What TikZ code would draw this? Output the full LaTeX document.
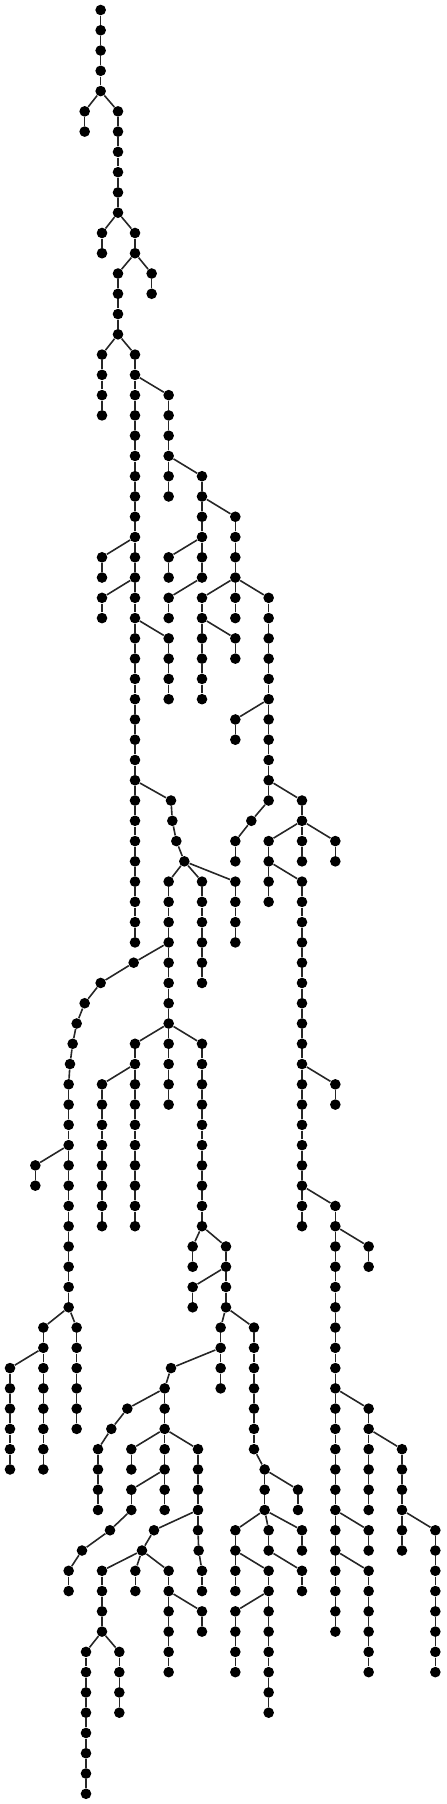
\documentclass[tikz,border=0pt]{standalone}
\begin{document}
\begin{tikzpicture}[x=0.5pt, y=-0.5pt,
  treedot/.style={circle, fill=black, inner sep=0pt, minimum size=5.3pt},
  treeedge/.style={black!85, line width=0.8pt}]
  % Canvas
  \useasboundingbox (0,0) rectangle (446,1804);

  % Root
  \node[treedot] (n0x302) at ({302/3},10) {};

  % Nodes as level / x / parent x (x in thirds of a pixel)
  \foreach \lvl/\xpos/\ppos in {
    1/302/302, 2/302/302, 3/302/302, 4/302/302,
    5/254/302, 5/354/302, 6/254/254, 6/354/354,
    7/354/354, 8/354/354, 9/354/354, 10/354/354,
    11/306/354, 11/405/354, 12/306/306, 12/405/405,
    13/354/405, 13/455/405, 14/354/354, 14/455/455,
    15/354/354, 16/354/354,
    17/306/354, 17/405/354, 18/306/306, 18/405/405,
    19/306/306, 19/405/405, 19/506/405, 20/306/306, 20/405/405, 20/506/506,
    21/405/405, 21/506/506, 22/405/405, 22/506/506,
    23/405/405, 23/506/506, 23/606/506, 24/405/405, 24/506/506, 24/606/606,
    25/405/405, 25/606/606, 25/706/606, 26/405/405, 26/606/606, 26/706/706,
    27/306/405, 27/405/405, 27/506/606, 27/606/606, 27/706/706,
    28/306/306, 28/405/405, 28/506/506, 28/606/606, 28/706/706,
    29/306/405, 29/405/405, 29/506/606, 29/606/706, 29/706/706, 29/806/706,
    30/306/306, 30/405/405, 30/506/506, 30/606/606, 30/706/706, 30/806/806,
    31/405/405, 31/506/405, 31/606/606, 31/706/606, 31/806/806,
    32/405/405, 32/506/506, 32/606/606, 32/706/706, 32/806/806,
    33/405/405, 33/506/506, 33/606/606, 33/806/806,
    34/405/405, 34/506/506, 34/606/606, 34/806/806,
    35/405/405, 35/706/806, 35/806/806, 36/405/405, 36/706/706, 36/806/806,
    37/405/405, 37/806/806, 38/405/405, 38/806/806,
    39/405/405, 39/513/405, 39/806/806, 39/906/806,
    40/405/405, 40/517/513, 40/754/806, 40/906/906,
    41/405/405, 41/529/517, 41/706/754, 41/806/906, 41/906/906, 41/1006/906,
    42/405/405, 42/553/529, 42/706/706, 42/806/806, 42/906/906, 42/1006/1006,
    43/405/405, 43/506/553, 43/606/553, 43/706/553, 43/806/806, 43/906/806,
    44/405/405, 44/506/506, 44/606/606, 44/706/706, 44/806/806, 44/906/906,
    45/405/405, 45/506/506, 45/606/606, 45/706/706, 45/906/906,
    46/405/405, 46/506/506, 46/606/606, 46/706/706, 46/906/906,
    47/401/506, 47/506/506, 47/606/606, 47/906/906,
    48/302/401, 48/506/506, 48/606/606, 48/906/906,
    49/254/302, 49/506/506, 49/906/906,
    50/230/254, 50/506/506, 50/906/906,
    51/218/230, 51/405/506, 51/506/506, 51/606/506, 51/906/906,
    52/210/218, 52/405/405, 52/506/506, 52/606/606, 52/906/906,
    53/206/210, 53/306/405, 53/405/405, 53/506/506, 53/606/606, 53/906/906, 53/1006/906,
    54/206/206, 54/306/306, 54/405/405, 54/506/506, 54/606/606, 54/906/906, 54/1006/1006,
    55/206/206, 55/306/306, 55/405/405, 55/606/606, 55/906/906,
    56/206/206, 56/306/306, 56/405/405, 56/606/606, 56/906/906,
    57/106/206, 57/206/206, 57/306/306, 57/405/405, 57/606/606, 57/906/906,
    58/106/106, 58/206/206, 58/306/306, 58/405/405, 58/606/606, 58/906/906,
    59/206/206, 59/306/306, 59/405/405, 59/606/606, 59/906/906, 59/1006/906,
    60/206/206, 60/306/306, 60/405/405, 60/606/606, 60/906/906, 60/1006/1006,
    61/206/206, 61/578/606, 61/678/606, 61/1006/1006, 61/1106/1006,
    62/206/206, 62/578/578, 62/678/678, 62/1006/1006, 62/1106/1106,
    63/206/206, 63/578/678, 63/678/678, 63/1006/1006,
    64/206/206, 64/578/578, 64/678/678, 64/1006/1006,
    65/130/206, 65/230/206, 65/662/678, 65/762/678, 65/1006/1006,
    66/130/130, 66/230/230, 66/662/662, 66/762/762, 66/1006/1006,
    67/30/130, 67/130/130, 67/230/230, 67/513/662, 67/662/662, 67/762/762, 67/1006/1006,
    68/30/30, 68/130/130, 68/230/230, 68/494/513, 68/662/662, 68/762/762, 68/1006/1006,
    69/30/30, 69/130/130, 69/230/230, 69/382/494, 69/494/494, 69/762/762, 69/1006/1006, 69/1106/1006,
    70/30/30, 70/130/130, 70/230/230, 70/334/382, 70/494/494, 70/762/762, 70/1006/1006, 70/1106/1106,
    71/30/30, 71/130/130, 71/294/334, 71/394/494, 71/494/494, 71/594/494, 71/762/762,
    71/1006/1006, 71/1106/1106, 71/1206/1106,
    72/30/30, 72/130/130, 72/294/294, 72/394/394, 72/494/494, 72/594/594, 72/794/762,
    72/1006/1006, 72/1106/1106, 72/1206/1206,
    73/294/294, 73/394/494, 73/494/494, 73/594/594, 73/794/794, 73/894/794,
    73/1006/1006, 73/1106/1106, 73/1206/1206,
    74/294/294, 74/394/394, 74/494/494, 74/594/594, 74/794/794, 74/894/894,
    74/1006/1006, 74/1106/1106, 74/1206/1206,
    75/330/394, 75/462/594, 75/594/594, 75/706/794, 75/806/794, 75/906/794,
    75/1006/1006, 75/1106/1006, 75/1206/1206, 75/1306/1206,
    76/246/330, 76/426/462, 76/596/594, 76/706/706, 76/806/806, 76/906/906,
    76/1006/1006, 76/1106/1106, 76/1206/1206, 76/1306/1306,
    77/206/246, 77/306/426, 77/406/426, 77/506/426, 77/606/596, 77/706/706,
    77/806/706, 77/906/806, 77/1006/1006, 77/1106/1006, 77/1306/1306,
    78/206/206, 78/306/306, 78/406/406, 78/506/506, 78/606/606, 78/706/706,
    78/806/806, 78/906/906, 78/1006/1006, 78/1106/1106, 78/1306/1306,
    79/306/306, 79/506/506, 79/606/506, 79/706/806, 79/806/806, 79/1006/1006, 79/1106/1106, 79/1306/1306,
    80/306/306, 80/506/506, 80/606/606, 80/706/706, 80/806/806, 80/1006/1006, 80/1106/1106, 80/1306/1306,
    81/258/306, 81/358/306, 81/506/506, 81/706/706, 81/806/806, 81/1106/1106, 81/1306/1306,
    82/258/258, 82/358/358, 82/506/506, 82/706/706, 82/806/806, 82/1106/1106, 82/1306/1306,
    83/258/258, 83/358/358, 83/806/806, 84/258/258, 84/358/358, 84/806/806,
    85/258/258, 86/258/258, 87/258/258, 88/258/258}{
    \pgfmathtruncatemacro\prevlvl{\lvl-1}
    \node[treedot] (n\lvl x\xpos) at ({\xpos/3},{10+20.27*\lvl}) {};
    \draw[treeedge] (n\prevlvl x\ppos) -- (n\lvl x\xpos);
  }
\end{tikzpicture}
\end{document}
